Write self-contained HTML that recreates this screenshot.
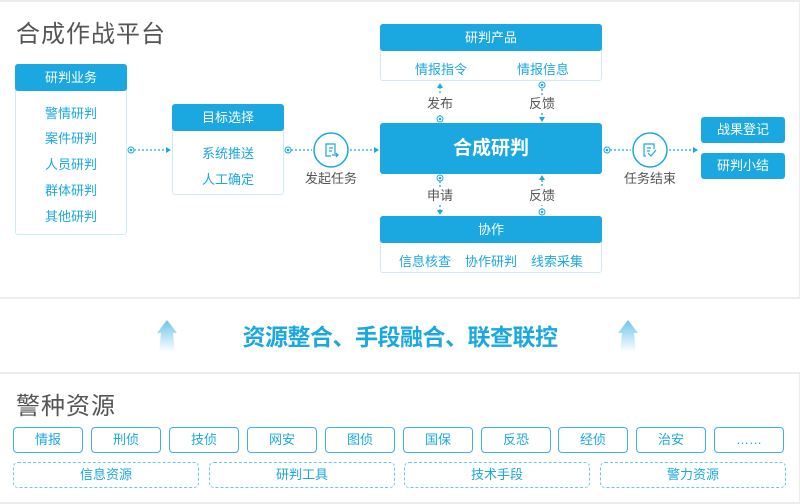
<!DOCTYPE html>
<html><head><meta charset="utf-8"><style>
*{margin:0;padding:0;box-sizing:border-box}
body{width:800px;height:502px;background:#fff;position:relative;overflow:hidden;font-family:"Liberation Sans","Noto Sans CJK SC",sans-serif}
.a{position:absolute}
.panel{position:absolute;border:2px solid #ececec;background:#fff}
.title{position:absolute;font-size:24px;color:#555;letter-spacing:1px}
.box{position:absolute;border:1px solid #cdeaf7;border-radius:3px;background:#fff}
.hd{position:absolute;left:-1px;right:-1px;top:-1px;height:27px;background:#1ba8e0;color:#fff;font-size:13px;text-align:center;line-height:27px;border-radius:3px}
.it{position:absolute;color:#1ba8e0;font-size:13px;text-align:center;width:100%}
.lbl{position:absolute;color:#555;font-size:13px;background:#fff;line-height:18px}
.btn{position:absolute;top:427px;width:70px;height:26px;border:1.5px solid #3fb3e6;border-radius:4px;color:#1ba8e0;font-size:13px;text-align:center;line-height:23px}
.dash{position:absolute;top:462px;height:26px;border:1.5px dashed #6cc4ec;border-radius:5px;color:#1ba8e0;font-size:13px;text-align:center;line-height:23px}
.bb{position:absolute;background:#1ba8e0;color:#fff;border-radius:3px;text-align:center}
</style></head><body>
<div class="panel" style="left:-2px;top:0;width:803px;height:299px"></div>
<div class="panel" style="left:-2px;top:372px;width:803px;height:132px"></div>
<div class="title" style="left:16px;top:14px">合成作战平台</div>
<div class="title" style="left:16px;top:386px">警种资源</div>

<div class="box" style="left:15px;top:64px;width:112px;height:171px"><div class="hd">研判业务</div>
<div class="it" style="top:38px">警情研判</div><div class="it" style="top:63px">案件研判</div><div class="it" style="top:89px">人员研判</div><div class="it" style="top:115px">群体研判</div><div class="it" style="top:141px">其他研判</div></div>

<div class="box" style="left:172px;top:104px;width:112px;height:91px"><div class="hd">目标选择</div>
<div class="it" style="top:38px">系统推送</div><div class="it" style="top:64px">人工确定</div></div>

<div class="box" style="left:380px;top:24px;width:222px;height:57px"><div class="hd">研判产品</div>
<div class="it" style="top:34px;left:-50px">情报指令</div><div class="it" style="top:34px;left:52px">情报信息</div></div>

<div class="bb" style="left:380px;top:123px;width:222px;height:51px;line-height:51px;font-size:19px;font-weight:bold">合成研判</div>

<div class="box" style="left:380px;top:216px;width:222px;height:57px"><div class="hd">协作</div>
<div class="it" style="top:34px;left:-66px">信息核查</div><div class="it" style="top:34px;left:0">协作研判</div><div class="it" style="top:34px;left:66px">线索采集</div></div>

<div class="bb" style="left:701px;top:117px;width:84px;height:26px;line-height:26px;font-size:13px">战果登记</div>
<div class="bb" style="left:701px;top:153px;width:84px;height:26px;line-height:26px;font-size:13px">研判小结</div>

<svg class="a" style="left:0;top:0" width="800" height="502">
<defs><linearGradient id="g" x1="0" y1="1" x2="0" y2="0"><stop offset="0" stop-color="#fff"/><stop offset="1" stop-color="#6cc4ec"/></linearGradient></defs>
<g stroke="#1ba8e0" stroke-width="1.3" stroke-dasharray="2 2" fill="none">
<line x1="134" y1="150" x2="166" y2="150"/>
<line x1="291" y1="150" x2="312" y2="150"/><line x1="350" y1="150" x2="374" y2="150"/>
<line x1="610" y1="150" x2="631" y2="150"/><line x1="669" y1="150" x2="693" y2="150"/>
<line x1="440" y1="87" x2="440" y2="116"/><line x1="542" y1="89" x2="542" y2="118"/>
<line x1="440" y1="181" x2="440" y2="211"/><line x1="542" y1="180" x2="542" y2="209"/>
</g>
<g fill="#1ba8e0">
<polygon points="166,147 171,150 166,153"/><polygon points="374,147 379,150 374,153"/><polygon points="693,147 698,150 693,153"/>
<polygon points="437,88 440,83 443,88"/><polygon points="539,117 542,122 545,117"/>
<polygon points="437,210 440,215 443,210"/><polygon points="539,180 542,175 545,180"/>
</g>
<g fill="#fff" stroke="#1ba8e0" stroke-width="1">
<circle cx="131" cy="150" r="3"/><circle cx="288" cy="150" r="3"/><circle cx="607" cy="150" r="3"/>
<circle cx="440" cy="119" r="3"/><circle cx="542" cy="85" r="3"/><circle cx="440" cy="178" r="3"/><circle cx="542" cy="212" r="3"/>
</g>
<g fill="#1ba8e0"><circle cx="131" cy="150" r="1.3"/><circle cx="288" cy="150" r="1.3"/><circle cx="607" cy="150" r="1.3"/><circle cx="440" cy="119" r="1.3"/><circle cx="542" cy="85" r="1.3"/><circle cx="440" cy="178" r="1.3"/><circle cx="542" cy="212" r="1.3"/></g>
<circle cx="331" cy="150" r="17" fill="#fff" stroke="#1ba8e0" stroke-width="1.5"/>
<circle cx="650" cy="150" r="17" fill="#fff" stroke="#1ba8e0" stroke-width="1.5"/>
<path d="M335 154 V144 H326 V156 H331 M329 148 H333 M329 151 H332 M332 155 H338 M336 153 L338 155 L336 157" stroke="#1ba8e0" stroke-width="1.2" fill="none"/>
<path d="M646 156 H644 V144 H654 V149 M647 148 H651 M647 151 H650 M648 153 L651 156 L656 150" stroke="#1ba8e0" stroke-width="1.2" fill="none"/>
<path d="M159 352 L161 333 H157 L167 320 L177 333 H173 L175 352 Z" fill="url(#g)"/>
<path d="M620 352 L622 333 H618 L628 320 L638 333 H634 L636 352 Z" fill="url(#g)"/>
</svg>

<div class="lbl" style="left:305px;top:170px">发起任务</div>
<div class="lbl" style="left:624px;top:170px">任务结束</div>
<div class="lbl" style="left:427px;top:95px">发布</div>
<div class="lbl" style="left:529px;top:95px">反馈</div>
<div class="lbl" style="left:427px;top:187px">申请</div>
<div class="lbl" style="left:529px;top:187px">反馈</div>

<div class="a" style="left:0;width:800px;top:318px;text-align:center;color:#1ba8e0;font-size:23px;font-weight:bold;letter-spacing:-0.5px">资源整合、手段融合、联查联控</div>

<div class="btn" style="left:13px">情报</div><div class="btn" style="left:91px">刑侦</div><div class="btn" style="left:169px">技侦</div><div class="btn" style="left:247px">网安</div><div class="btn" style="left:325px">图侦</div>
<div class="btn" style="left:403px">国保</div><div class="btn" style="left:481px">反恐</div><div class="btn" style="left:558px">经侦</div><div class="btn" style="left:636px">治安</div><div class="btn" style="left:714px">……</div>
<div class="dash" style="left:13px;width:186px">信息资源</div><div class="dash" style="left:209px;width:186px">研判工具</div>
<div class="dash" style="left:404px;width:186px">技术手段</div><div class="dash" style="left:600px;width:186px">警力资源</div>
</body></html>
